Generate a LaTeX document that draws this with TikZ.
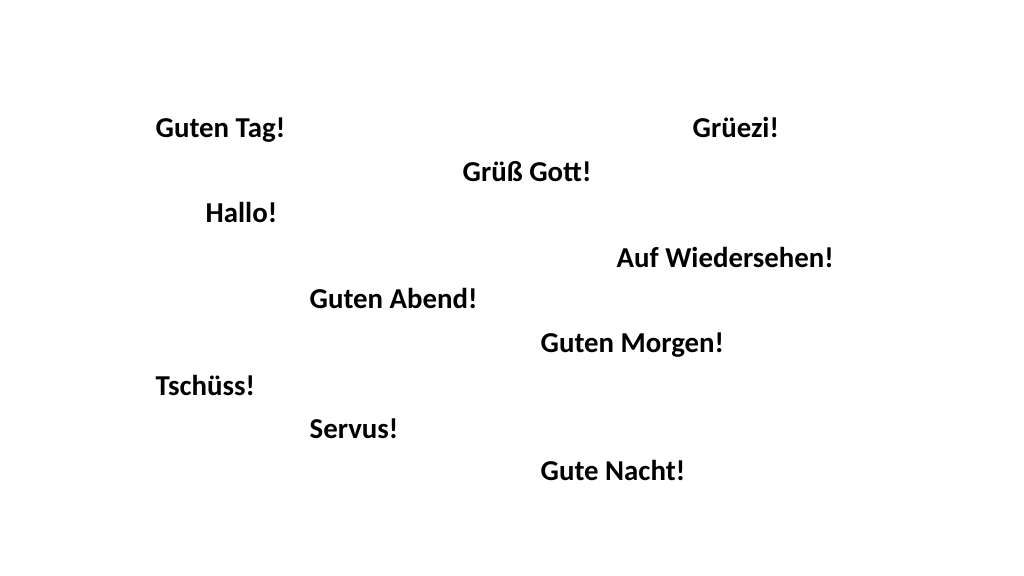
\documentclass[tikz,border=0pt]{standalone}
\usepackage{fontspec}
\setmainfont{Carlito}
\begin{document}
\begin{tikzpicture}[x=0.01cm,y=-0.01cm,
  lbl/.style={anchor=base west,inner sep=0pt,font=\fontsize{8.2pt}{9pt}\selectfont\bfseries}]
\useasboundingbox[fill=white] (0,0) rectangle (1024,576);
\node[lbl] (a) at (155,138) {Guten Tag!};
\node[lbl] (b) at (692,138) {Grüezi!};
\node[lbl] (c) at (462,182) {Grüß Gott!};
\node[lbl] (d) at (205,223) {Hallo!};
\node[lbl] (e) at (616,268) {Auf Wiedersehen!};
\node[lbl] (f) at (309,308) {Guten Abend!};
\node[lbl] (g) at (540,353) {Guten Morgen!};
\node[lbl] (h) at (155,395) {Tschüss!};
\node[lbl] (i) at (309,438) {Servus!};
\node[lbl] (j) at (540,480) {Gute Nacht!};
\end{tikzpicture}
\end{document}
